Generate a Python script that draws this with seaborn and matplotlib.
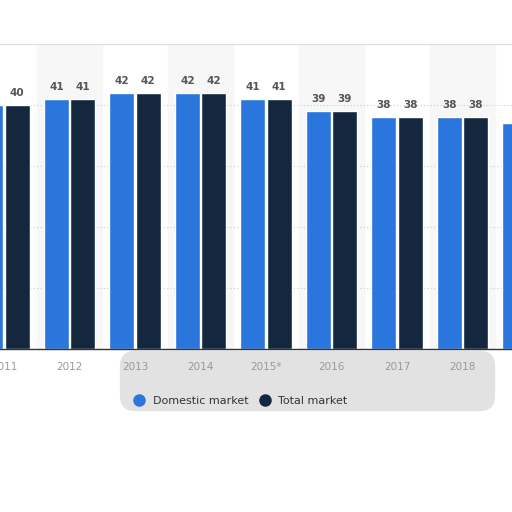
import pandas as pd
import matplotlib.pyplot as plt
import seaborn as sns
from matplotlib.lines import Line2D
from matplotlib.patches import FancyBboxPatch

# chart values
years = ["2011", "2012", "2013", "2014", "2015*", "2016", "2017", "2018", "2019"]
domestic = [40, 41, 42, 42, 41, 39, 38, 38, 37]
total = [40, 41, 42, 42, 41, 39, 38, 38, 37]
series = ["Domestic market", "Total market"]
colors = ["#2a76dc", "#13283f"]

df = pd.DataFrame({
    "year": years * 2,
    "value": domestic + total,
    "series": [series[0]] * len(years) + [series[1]] * len(years),
})

sns.set_style("white")
plt.rcParams["font.family"] = ["DejaVu Sans"]

fig = plt.figure(figsize=(5.12, 5.12), dpi=100)

# soft grey smear under the axis, as in the source image
smear = FancyBboxPatch((125 / 512, 1 - 406 / 512), 365 / 512, 50 / 512,
                       boxstyle="round,pad=0.01,rounding_size=0.03",
                       transform=fig.transFigure, facecolor="#e2e2e2",
                       edgecolor="none", zorder=-1)
fig.patches.append(smear)

ax = fig.add_axes([0, 1 - 349 / 512, 1, 305 / 512])

# faint alternating column bands
for i in range(1, len(years), 2):
    ax.axvspan(i - 0.5, i + 0.5, color="#f7f7f7", zorder=0)

sns.barplot(data=df, x="year", y="value", hue="series", hue_order=series,
            palette=colors, width=0.8, gap=0.04, saturation=1,
            legend=False, ax=ax, zorder=2)

for cont in ax.containers:
    ax.bar_label(cont, padding=5, fontsize=7.5, fontweight="bold", color="#555555")

ax.set_ylim(0, 50)
ax.set_xlim(-4 / 65.5, (512 - 4) / 65.5)
ax.set_yticks([0, 10, 20, 30, 40, 50])
ax.set_yticklabels([])
ax.yaxis.grid(True, color="#cccccc", linestyle=(0, (1, 2)), linewidth=0.8)
ax.set_axisbelow(True)
ax.tick_params(axis="x", length=0, pad=9, labelsize=7.5, labelcolor="#999999")
ax.tick_params(axis="y", length=0)
ax.set_xlabel("")
ax.set_ylabel("")
for side in ["left", "right"]:
    ax.spines[side].set_visible(False)
ax.spines["top"].set_color("#dddddd")
ax.spines["bottom"].set_color("#333333")
ax.spines["bottom"].set_linewidth(1.0)

handles = [Line2D([], [], marker="o", linestyle="", markersize=8,
                  markerfacecolor=c, markeredgecolor=c) for c in colors]
fig.legend(handles, series, loc="center", bbox_to_anchor=(238 / 512, 1 - 401 / 512),
           ncol=2, frameon=False, fontsize=8, handletextpad=0.2, columnspacing=0.5,
           labelcolor="#333333")

fig.savefig("out.png", dpi=100)
